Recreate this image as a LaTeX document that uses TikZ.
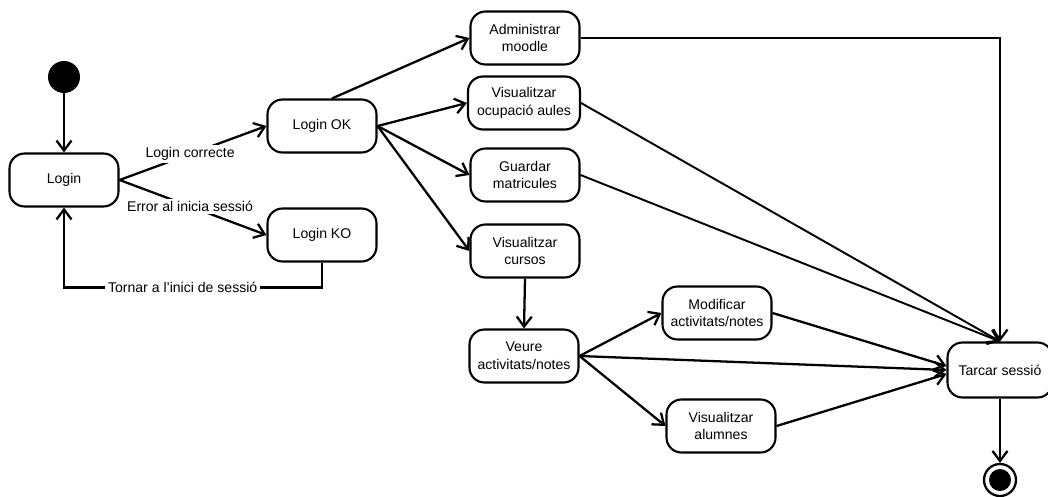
\documentclass[tikz,border=0pt]{standalone}
\usepackage{fontspec}
\setmainfont{Liberation Sans}
\usetikzlibrary{arrows.meta}

\begin{document}
\begin{tikzpicture}[line width=1.3pt,
  estat/.style={draw, line width=1.2pt, rounded corners=0.3cm, minimum width=2.18cm, minimum height=1.06cm,
    align=center, font=\fontsize{8}{10}\selectfont, inner sep=1pt},
  etiqueta/.style={fill=white, font=\fontsize{8}{10}\selectfont, inner sep=1.5pt},
  fletxa/.style={-{Straight Barb[length=2mm,width=3mm]}}]

\useasboundingbox (0,0) rectangle (20.96,9.92);

% Initial and final points
\fill (1.28,8.38) circle (0.32) coordinate (inici);
\node[circle, draw, fill=white, minimum size=0.64cm] (final) at (20.0,0.32) {};
\fill (final) circle (0.22);

% States
\node[estat] (login) at (1.28,6.32) {Login};
\node[estat] (loginok) at (6.44,7.40) {Login OK};
\node[estat] (loginko) at (6.44,5.22) {Login KO};

\node[estat] (admin) at (10.5,9.16) {Administrar\\moodle};
\node[estat, minimum width=2.24cm] (ocupacio) at (10.48,7.86) {Visualitzar\\ocupació aules};
\node[estat] (matricules) at (10.5,6.42) {Guardar\\matricules};
\node[estat] (cursos) at (10.5,4.90) {Visualitzar\\cursos};
\node[estat] (veure) at (10.48,2.80) {Veure\\activitats/notes};
\node[estat] (modificar) at (14.34,3.66) {Modificar\\activitats/notes};
\node[estat] (alumnes) at (14.42,1.40) {Visualitzar\\alumnes};
\node[estat, minimum width=2.1cm, minimum height=1.1cm] (tancar) at (20.0,2.52) {Tarcar sessió};

% Login
\draw[fletxa] ([yshift=-0.32cm]inici) -- (login.north);
\draw[fletxa] (login.east) -- node[etiqueta, pos=0.48] {Login correcte} (loginok.west);
\draw[fletxa] (login.east) -- node[etiqueta, pos=0.48] {Error al inicia sessió} (loginko.west);

% Back to the login
\coordinate (tornar) at ([yshift=-0.5cm]loginko.south);
\draw[fletxa] (loginko.south) -- (tornar) -- node[etiqueta, pos=0.54] {Tornar a l'inici de sessió} (tornar -| login.south) -- (login.south);

% Options after Login OK
\draw[fletxa] ([xshift=0.2cm]loginok.north) -- (admin.west);
\foreach \i in {ocupacio, matricules, cursos} {
  \draw[fletxa] (loginok.east) -- (\i.west);
}
\draw[fletxa] (cursos.south) -- (veure.north);
\draw[fletxa] (veure.east) -- (modificar.west);
\draw[fletxa] (veure.east) -- (alumnes.west);

% Towards Tarcar sessió
\draw[fletxa] (admin.east) -| (tancar.north);
\foreach \i in {ocupacio, matricules} {
  \draw[fletxa, line width=1.1pt] (\i.east) -- (tancar.north);
}
\foreach \i\j in {modificar/0.08, veure/0, alumnes/-0.08} {
  \draw[fletxa] (\i.east) -- ([yshift=\j cm]tancar.west);
}
\draw[fletxa] (tancar.south) -- (final.north);

\end{tikzpicture}
\end{document}
